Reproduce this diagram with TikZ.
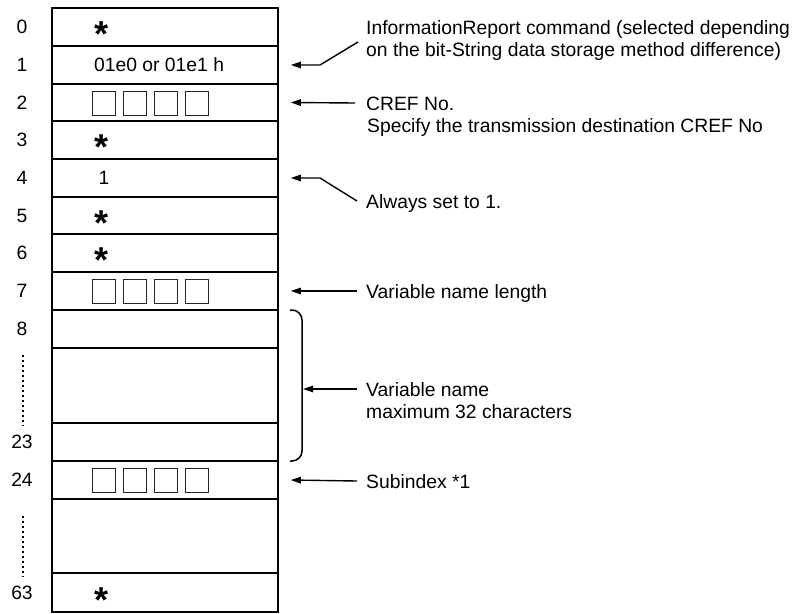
\documentclass[tikz,border=0pt]{standalone}
\usepackage{fontspec}
\usepackage{graphicx}
\setmainfont{Liberation Sans}
\usetikzlibrary{arrows.meta}
\newcommand{\starglyph}{\raisebox{-17pt}[6pt][6pt]{\scalebox{2}{\bfseries\fontsize{18}{18}\selectfont *}}}
\tikzset{
  txt/.style={inner sep=0pt, font=\fontsize{19.3}{22}\selectfont},
  cell/.style={draw, line width=1.6pt, minimum width=226pt, inner sep=0pt},
  sq/.style={draw, line width=0.9pt, black!85, minimum width=23pt, minimum height=24pt, inner sep=0pt},
  star/.style={inner sep=0pt, anchor=center},
  arr/.style={line width=1.4pt, -{Triangle[length=10pt,width=6.5pt]}},
  dots/.style={line width=2pt, dash pattern=on 2pt off 3pt},
}
\begin{document}
\begin{tikzpicture}[x=1pt,y=-1pt]
\path[use as bounding box] (0,0) rectangle (799,613);
% table cells
\node[cell, minimum height=38pt] (r0) at (165,27) {};
\node[cell, minimum height=38pt] (r1) at (165,65) {};
\node[cell, minimum height=37pt] (r2) at (165,102.5) {};
\node[cell, minimum height=38pt] (r3) at (165,140) {};
\node[cell, minimum height=38pt] (r4) at (165,178) {};
\node[cell, minimum height=37pt] (r5) at (165,215.5) {};
\node[cell, minimum height=38pt] (r6) at (165,253) {};
\node[cell, minimum height=38pt] (r7) at (165,291) {};
\node[cell, minimum height=38pt] (r8) at (165,329) {};
\node[cell, minimum height=75pt] (rm) at (165,385.5) {};
\node[cell, minimum height=38pt] (r23) at (165,442) {};
\node[cell, minimum height=38pt] (r24) at (165,480) {};
\node[cell, minimum height=74pt] (rb) at (165,536) {};
\node[cell, minimum height=39pt] (r63) at (165,592.5) {};
% cell contents
\node[star] (s0) at (102,29.5) {\starglyph};
\node[txt, anchor=west] (c1) at (94,65) {01e0 or 01e1 h};
\foreach \i/\x in {1/103.5,2/134.5,3/165.5,4/196.5}{
  \node[sq] (qa\i) at (\x,103) {};
  \node[sq] (qb\i) at (\x,291) {};
  \node[sq] (qc\i) at (\x,480) {};
}
\node[star] (s3) at (102,142.5) {\starglyph};
\node[txt] (c4) at (104,178) {1};
\node[star] (s5) at (102,218) {\starglyph};
\node[star] (s6) at (102,255.5) {\starglyph};
\node[star] (s63) at (102,595) {\starglyph};
% row labels
\node[txt] (l0) at (22,27) {0};
\node[txt] (l1) at (22,65) {1};
\node[txt] (l2) at (22,102.5) {2};
\node[txt] (l3) at (22,140) {3};
\node[txt] (l4) at (22,178) {4};
\node[txt] (l5) at (22,215.5) {5};
\node[txt] (l6) at (22,253) {6};
\node[txt] (l7) at (22,291) {7};
\node[txt] (l8) at (22,329) {8};
\node[txt] (l23) at (22,442) {23};
\node[txt] (l24) at (22,480) {24};
\node[txt] (l63) at (22,592.5) {63};
\coordinate (d1a) at (23,355);
\coordinate (d1b) at (23,426);
\coordinate (d2a) at (23,516);
\coordinate (d2b) at (23,577);
\draw[dots] (d1a) -- (d1b);
\draw[dots] (d2a) -- (d2b);
% annotations
\node[txt, anchor=base west] (a1) at (366,34) {InformationReport command (selected depending};
\node[txt, anchor=base west] (a1b) at (366,56) {on the bit-String data storage method difference)};
\node[txt, anchor=base west] (a2) at (366,110) {CREF No.};
\node[txt, anchor=base west] (a2b) at (367,132) {Specify the transmission destination CREF No};
\node[txt, anchor=base west] (a4) at (366,208) {Always set to 1.};
\node[txt, anchor=base west] (a7) at (366,298) {Variable name length};
\node[txt, anchor=base west] (a8) at (366,396) {Variable name};
\node[txt, anchor=base west] (a8b) at (366,418) {maximum 32 characters};
\node[txt, anchor=base west] (a24) at (366,488) {Subindex *1};
% connectors
\coordinate (e1) at ([xshift=12pt]r1.east);
\coordinate (e2) at ([xshift=12pt]r2.east);
\coordinate (e4) at ([xshift=12pt]r4.east);
\coordinate (e7) at ([xshift=12pt]r7.east);
\coordinate (e24) at ([xshift=12pt]r24.east);
\coordinate (k1) at (358,42);
\coordinate (k4) at (357,201);
\draw[arr] (k1) -- (320,65) -- (e1);
\draw[arr] (355,103) -- (e2);
\draw[arr] (k4) -- (320,178) -- (e4);
\draw[arr] (357,291) -- (e7);
\draw[arr] (357,481) -- (e24);
% brace
\coordinate (bt) at (290,310);
\coordinate (bb) at (290,461);
\coordinate (bm) at (303,389);
\draw[line width=1.5pt, rounded corners=10pt] (bt) -- (302,310) -- (302,461) -- (bb);
\draw[arr] (357,389) -- (bm);
\end{tikzpicture}
\end{document}
